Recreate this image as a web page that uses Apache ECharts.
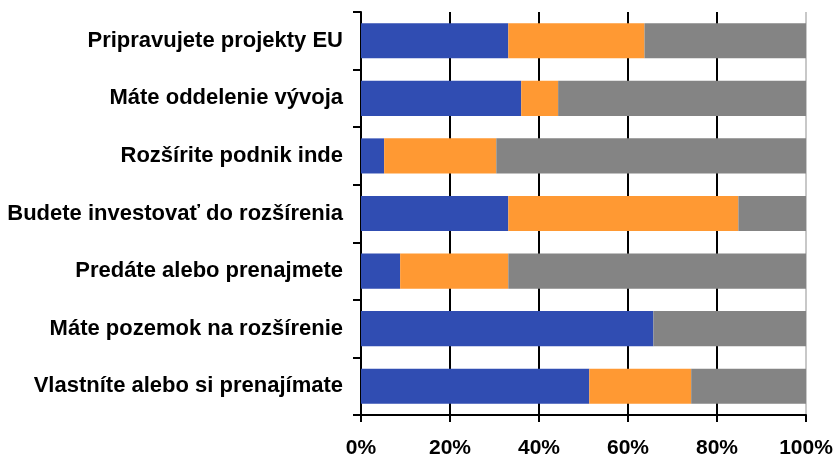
<!DOCTYPE html>
<html>
<head>
<meta charset="utf-8">
<script src="https://cdn.jsdelivr.net/npm/echarts@6/dist/echarts.min.js"></script>
<style>
html,body{margin:0;padding:0;background:#fff;}
#chart{width:834px;height:457px;}
</style>
</head>
<body>
<div id="chart"></div>
<script>
// kategorie zhora nadol
var categories = ['Pripravujete projekty EU','Máte oddelenie vývoja','Rozšírite podnik inde','Budete investovať do rozšírenia','Predáte alebo prenajmete','Máte pozemok na rozšírenie','Vlastníte alebo si prenajímate'];
var blueValues = [33.1, 36.0, 5.2, 33.1, 8.8, 65.7, 51.3];
var orangeValues = [30.6, 8.3, 25.2, 51.7, 24.3, 0, 22.9];
var grayValues = [36.3, 55.7, 69.6, 15.2, 66.9, 34.3, 25.8];
var xTicks = [0, 20, 40, 60, 80, 100];

var font = {fontFamily:'Liberation Sans, Arial, sans-serif', fontWeight:'bold', color:'#000'};

var chart = echarts.init(document.getElementById('chart'));
chart.setOption({
	animation:false,
	grid:{left:361, right:28, top:12, bottom:42, containLabel:false, outerBoundsMode:'none'},
	xAxis:{
		type:'value',
		min:xTicks[0],
		max:xTicks[xTicks.length-1],
		interval:20,
		axisLine:{show:true, lineStyle:{color:'#000', width:2}},
		axisTick:{show:true, length:7, lineStyle:{color:'#000', width:2}},
		axisLabel:Object.assign({margin:23, fontSize:21, formatter:'{value}%'}, font),
		splitLine:{show:true, lineStyle:{color:['#000','#000','#000','#000','#000','#c8c8c8'], width:2}}
	},
	yAxis:{
		type:'category',
		inverse:true,
		data:categories,
		axisLine:{show:true, lineStyle:{color:'#000', width:2}},
		axisTick:{show:true, length:8, lineStyle:{color:'#000', width:2}},
		axisLabel:Object.assign({margin:18, fontSize:22}, font)
	},
	series:[
		{name:'a', type:'bar', stack:'s', data:blueValues, barCategoryGap:'39%', itemStyle:{color:'#304DB2'}},
		{name:'b', type:'bar', stack:'s', data:orangeValues, itemStyle:{color:'#FF9933'}},
		{name:'c', type:'bar', stack:'s', data:grayValues, itemStyle:{color:'#848484'}}
	]
});
</script>
</body>
</html>
